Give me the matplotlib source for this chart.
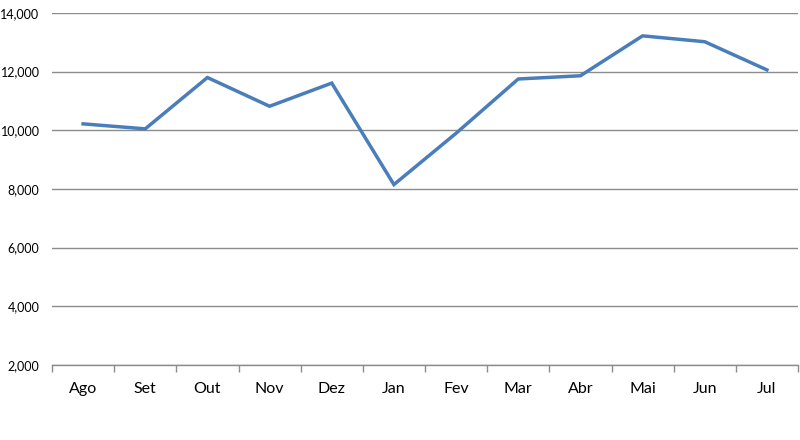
import matplotlib
matplotlib.use("Agg")
import matplotlib.pyplot as plt
from matplotlib.ticker import FuncFormatter, MultipleLocator, FixedLocator

months = ["Ago", "Set", "Out", "Nov", "Dez", "Jan", "Fev", "Mar", "Abr", "Mai", "Jun", "Jul"]
values = [10220, 10050, 11800, 10820, 11610, 8150, 9900, 11750, 11860, 13220, 13020, 12060]

plt.rcParams['font.family'] = ['Lato', 'DejaVu Sans']

fig = plt.figure(figsize=(8, 4.4), dpi=100)
ax = fig.add_axes([0.065, 0.1705, 0.9325, 0.8])

x = list(range(len(months)))
ax.plot(x, values, color="#4A7EBB", linewidth=2.5, solid_joinstyle="miter")

ax.set_xlim(-0.5, len(months) - 0.5)
ax.set_ylim(2000, 14000)
ax.yaxis.set_major_locator(MultipleLocator(2000))
ax.yaxis.set_major_formatter(FuncFormatter(lambda v, p: f"{int(v):,}"))
ax.grid(axis="y", color="#8C8C8C", linewidth=1.0)
ax.set_axisbelow(True)

ax.set_xticks(x)
ax.set_xticklabels(months)
ax.xaxis.set_minor_locator(FixedLocator([i - 0.5 for i in range(len(months) + 1)]))
ax.tick_params(axis="x", which="major", length=0, pad=12, labelsize=11.5, colors="black")
ax.tick_params(axis="x", which="minor", length=5, color="#8C8C8C", width=1.0)
ax.tick_params(axis="y", length=0, pad=9, labelsize=9)

for s in ["top", "right", "left"]:
    ax.spines[s].set_visible(False)
ax.spines["bottom"].set_color("#8C8C8C")
ax.spines["bottom"].set_linewidth(1.0)

fig.savefig("out.png", dpi=100)
